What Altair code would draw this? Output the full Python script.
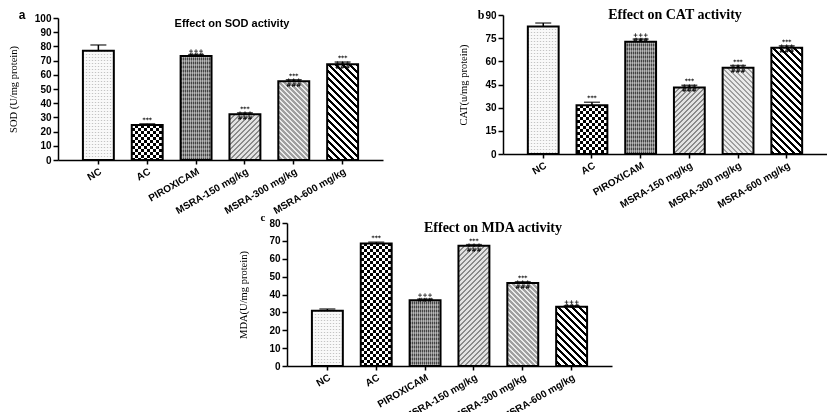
import math
import altair as alt
import pandas as pd

cats = ["NC", "AC", "PIROXICAM", "MSRA-150 mg/kg", "MSRA-300 mg/kg", "MSRA-600 mg/kg"]

sod_mean = [77.0, 24.7, 73.2, 32.2, 55.5, 67.4]
sod_sem = [4.0, 0.8, 1.0, 1.0, 1.0, 1.6]
sod_sig = ["", "***", "+++\n###", "***\n+++\n###", "***\n+++\n###", "***\n+++\n###"]

cat_mean = [82.6, 31.5, 72.6, 43.1, 55.8, 68.8]
cat_sem = [2.2, 2.0, 1.8, 1.4, 1.5, 1.2]
cat_sig = ["", "***", "+++\n###", "***\n+++\n###", "***\n+++\n###", "***\n+++\n###"]

mda_mean = [30.9, 68.6, 36.8, 67.3, 46.4, 33.1]
mda_sem = [1.0, 0.7, 0.6, 0.6, 0.7, 0.6]
mda_sig = ["", "***", "+++\n###", "***\n+++\n###", "***\n+++\n###", "+++\n###"]

PAD_IN, PAD_OUT = 0.367, 0.51
SANS = "Liberation Sans"
SERIF = "Liberation Serif"


def band_width(W):
    step = W / (len(cats) - PAD_IN + 2 * PAD_OUT)
    return step * (1 - PAD_IN)


def grad(kind, w, h, period, c1, c2, frac):
    if kind == "h":
        x1, y1, x2, y2, L = 0, 0, 0, 1, h
    elif kind == "v":
        x1, y1, x2, y2, L = 0, 0, 1, 0, w
    else:
        lam = (w + h) / (w * w + h * h)
        L = w + h
        if kind == "d1":
            x1, y1, x2, y2 = 0, 0, lam * w, lam * h
        else:
            x1, y1, x2, y2 = 1, 0, 1 - lam * w, lam * h
    stops = []
    n = int(math.ceil(L / period)) + 1
    for k in range(n):
        a = min(1.0, k * period / L)
        b = min(1.0, (k + frac) * period / L)
        c = min(1.0, (k + 1) * period / L)
        stops += [
            {"offset": a, "color": c1},
            {"offset": b, "color": c1},
            {"offset": b, "color": c2},
            {"offset": c, "color": c2},
        ]
        if c >= 1.0:
            break
    return {"gradient": "linear", "x1": x1, "y1": y1, "x2": x2, "y2": y2, "stops": stops}


def fills(i, w, h):
    if i == 0:
        return [
            (grad("h", w, h, 3, "#c4c4c4", "#f9f9f9", 0.34), {}),
            (grad("v", w, h, 3, "rgba(249,249,249,0)", "rgba(249,249,249,0.85)", 0.34), {}),
        ]
    if i == 1:
        return [
            (grad("h", w, h, 6, "#000000", "#ffffff", 0.5), {}),
            (grad("v", w, h, 6, "#ffffff", "#000000", 0.5), {"blend": "difference"}),
        ]
    if i == 2:
        return [
            (grad("v", w, h, 2, "#444444", "#9a9a9a", 0.5), {}),
            (grad("h", w, h, 4, "rgba(255,255,255,0.3)", "rgba(255,255,255,0)", 0.5), {}),
        ]
    if i == 3:
        return [(grad("d1", w, h, 5, "#8a8a8a", "#e2e2e2", 0.45), {})]
    if i == 4:
        return [(grad("d2", w, h, 5, "#a0a0a0", "#ececec", 0.45), {})]
    return [(grad("d2", w, h, 7, "#000000", "#ffffff", 0.42), {})]


def panel(means, sems, sigs, ymax, ystep, ytitle, title, title_font, title_size,
          title_x, title_y, letter, letter_font, letter_size, letter_x, letter_y,
          W, H, top_off, title_pad, x_off=0):
    df = pd.DataFrame({
        "cat": cats,
        "value": means,
        "upper": [m + s for m, s in zip(means, sems)],
        "sig": sigs,
    })
    sc_kw = dict(domain=cats, paddingInner=PAD_IN, paddingOuter=PAD_OUT, round=False)
    if x_off:
        sc_kw["range"] = [x_off, W + x_off]
    xs = alt.Scale(**sc_kw)
    xa = alt.Axis(title=None, labelAngle=-30, labelAlign="right", labelBaseline="top",
                  labelFont=SANS, labelFontWeight="bold", labelFontSize=10,
                  labelColor="black", labelPadding=2, labelOverlap=False,
                  tickSize=4, tickColor="black", tickWidth=1.5,
                  domainColor="black", domainWidth=1.5)
    ys = alt.Scale(domain=[0, ymax], nice=False, zero=True, range=[H, top_off])
    ya_kw = dict(values=list(range(0, ymax + 1, ystep)), grid=False, title=ytitle,
                 titleFont=SERIF, titleFontWeight="normal", titleFontSize=10.5,
                 titleColor="black", titlePadding=title_pad,
                 labelFont=SANS, labelFontWeight="bold", labelFontSize=10,
                 labelColor="black", labelPadding=2, tickSize=5, tickColor="black",
                 tickWidth=1.5, domainColor="black", domainWidth=1.5)
    if x_off:
        ya_kw["offset"] = -x_off
    ya = alt.Axis(**ya_kw)
    x = alt.X("cat:N", sort=cats, scale=xs, axis=xa)
    y = alt.Y("value:Q", scale=ys, axis=ya)
    yu = alt.Y("upper:Q", scale=ys, axis=ya)
    base = alt.Chart(df)
    w = band_width(W)
    span = H - top_off
    layers = []
    for i, c in enumerate(cats):
        h = means[i] / ymax * span
        for f, extra in fills(i, w, h):
            layers.append(
                base.transform_filter(alt.FieldEqualPredicate(field="cat", equal=c))
                .mark_bar(fill=f, strokeWidth=0, **extra)
                .encode(x=x, y=y)
            )
    layers.append(base.mark_bar(fillOpacity=0, stroke="black", strokeWidth=2).encode(x=x, y=y))
    layers.append(base.mark_rule(color="black", strokeWidth=1.5).encode(x=x, y=y, y2="upper:Q"))
    layers.append(base.mark_tick(color="black", thickness=1.5, size=16, orient="horizontal")
                  .encode(x=x, y=yu))
    layers.append(base.mark_text(font="DejaVu Sans", fontWeight="bold", fontSize=6,
                                 lineHeight=4.6, lineBreak="\n", baseline="bottom",
                                 dy=-1, color="black")
                  .encode(x=x, y=yu, text="sig:N"))
    tdf = pd.DataFrame({"t": [title]})
    layers.append(alt.Chart(tdf).mark_text(font=title_font, fontWeight="bold", fontSize=title_size,
                                           baseline="middle", align="center", color="black")
                  .encode(x=alt.value(title_x + x_off), y=alt.value(title_y), text="t:N"))
    ldf = pd.DataFrame({"t": [letter]})
    layers.append(alt.Chart(ldf).mark_text(font=letter_font, fontWeight="bold", fontSize=letter_size,
                                           baseline="top", align="center", color="black")
                  .encode(x=alt.value(letter_x + x_off), y=alt.value(letter_y), text="t:N"))
    return alt.layer(*layers).properties(width=W + x_off, height=H)


pa = panel(sod_mean, sod_sem, sod_sig, 100, 10, "SOD (U/mg protein)",
           "Effect on SOD activity", SANS, 11, 174, 8.5,
           "a", SANS, 12, -36, -5, 325, 145, 3, 16)
pb = panel(cat_mean, cat_sem, cat_sig, 90, 15, "CAT(u/mg protein)",
           "Effect on CAT activity", SERIF, 14, 172, 0,
           "b", SERIF, 12, -22, -5, 324, 139, 0, 16)
pc = panel(mda_mean, mda_sem, mda_sig, 80, 10, "MDA(U/mg protein)",
           "Effect on MDA activity", SERIF, 14, 206, 5,
           "c", SERIF, 11, -24, -11, 325, 143, 0, 20, x_off=14)

top = alt.hconcat(pa, pb, spacing=75)
chart = (
    alt.vconcat(top, pc, spacing=-4, center=True)
    .properties(padding=0, background="white")
    .configure_view(stroke=None)
)
chart.save("out.html", embed_options={"renderer": "svg", "actions": False})
